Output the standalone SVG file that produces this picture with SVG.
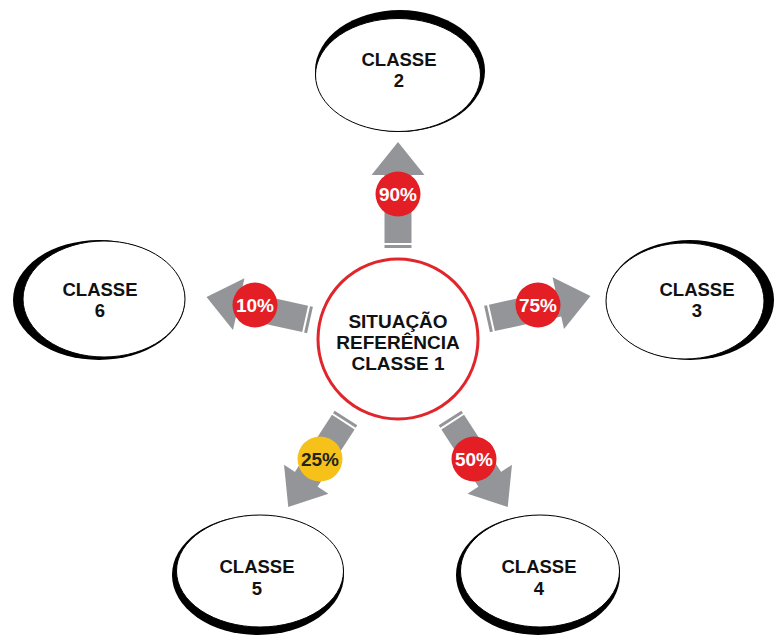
<svg xmlns="http://www.w3.org/2000/svg" width="775" height="636" viewBox="0 0 775 636">
<style>
.lbl{font-family:"Liberation Sans",Arial,sans-serif;font-weight:bold;font-size:18.5px;fill:#111;text-anchor:middle}
.ctr{font-family:"Liberation Sans",Arial,sans-serif;font-weight:bold;font-size:19px;fill:#111;text-anchor:middle}
.pct{font-family:"Liberation Sans",Arial,sans-serif;font-weight:bold;font-size:19px;fill:#fff;text-anchor:middle}
.pctd{fill:#222}
.rim{fill:#000}
.face{fill:#fff;stroke:#000;stroke-width:1}
.arr{fill:#939598}
.red{fill:#e31e24}
.yel{fill:#f6c21a}
</style>
<defs>
<g id="arrow">
<rect class="arr" x="0" y="-13.5" width="3" height="27"/>
<rect class="arr" x="5" y="-13.5" width="69" height="27"/>
<polygon class="arr" points="73,-26.5 106,0 73,26.5"/>
</g>
</defs>
<rect width="775" height="636" fill="#fff"/>
<g id="connectors">
<use href="#arrow" transform="translate(398,248) rotate(-90)"/>
<use href="#arrow" transform="translate(487,319) rotate(-12.5)"/>
<use href="#arrow" transform="translate(310,320) rotate(192.5)"/>
<use href="#arrow" transform="translate(346,418) rotate(123)"/>
<use href="#arrow" transform="translate(450,418) rotate(57)"/>
<g id="p90"><circle class="red" cx="398" cy="194" r="22.5"/><text class="pct" x="398" y="201">90%</text></g>
<g id="p75"><circle class="red" cx="538" cy="305" r="22.5"/><text class="pct" x="538" y="312">75%</text></g>
<g id="p10"><circle class="red" cx="255" cy="305" r="22.5"/><text class="pct" x="255" y="312">10%</text></g>
<g id="p25"><circle class="yel" cx="320" cy="459" r="22.5"/><text class="pct pctd" x="320" y="466">25%</text></g>
<g id="p50"><circle class="red" cx="474" cy="459" r="22.5"/><text class="pct" x="474" y="466">50%</text></g>
</g>
<g id="classe1">
<circle cx="398" cy="339" r="80" fill="#fff" stroke="#e0262b" stroke-width="3"/>
<text class="ctr" x="398" y="328">SITUAÇÃO</text>
<text class="ctr" x="398" y="349">REFERÊNCIA</text>
<text class="ctr" x="398" y="370">CLASSE 1</text>
</g>
<g id="classe2">
<ellipse class="rim" cx="400" cy="71" rx="85" ry="61"/>
<ellipse class="face" cx="398" cy="75" rx="82.5" ry="56.5"/>
<text class="lbl" x="399" y="66">CLASSE</text>
<text class="lbl" x="399" y="87">2</text>
</g>
<g id="classe3">
<ellipse class="rim" cx="690" cy="300" rx="84" ry="60"/>
<ellipse class="face" cx="685" cy="301" rx="79" ry="58"/>
<text class="lbl" x="697" y="296">CLASSE</text>
<text class="lbl" x="697" y="317">3</text>
</g>
<g id="classe6">
<ellipse class="rim" cx="99" cy="300" rx="86" ry="60"/>
<ellipse class="face" cx="104" cy="299" rx="81" ry="58"/>
<text class="lbl" x="100" y="296">CLASSE</text>
<text class="lbl" x="100" y="317">6</text>
</g>
<g id="classe5">
<ellipse class="rim" cx="258" cy="575" rx="86" ry="60"/>
<ellipse class="face" cx="260" cy="571" rx="83.5" ry="56"/>
<text class="lbl" x="257" y="573">CLASSE</text>
<text class="lbl" x="257" y="595">5</text>
</g>
<g id="classe4">
<ellipse class="rim" cx="538" cy="575" rx="82" ry="60"/>
<ellipse class="face" cx="540" cy="571" rx="79.5" ry="56"/>
<text class="lbl" x="539" y="573">CLASSE</text>
<text class="lbl" x="539" y="595">4</text>
</g>
</svg>
